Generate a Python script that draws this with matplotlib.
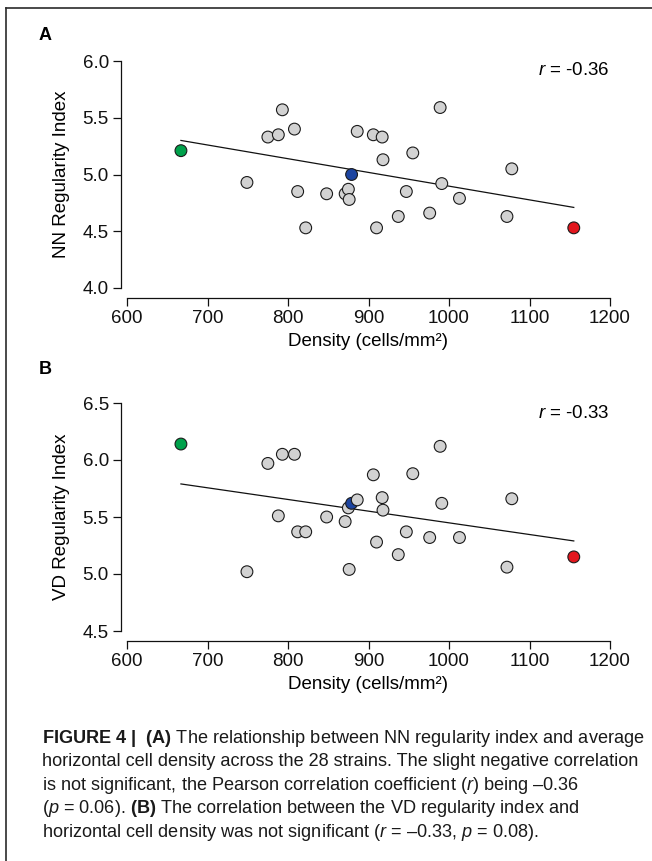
"""
Figure 4: NN / VD regularity index vs. horizontal cell density (28 strains).
"""

import numpy as np
import matplotlib

matplotlib.use("Agg")
import matplotlib.pyplot as plt
from matplotlib.lines import Line2D

plt.rcParams["font.family"] = ["Liberation Sans", "DejaVu Sans"]
plt.rcParams["mathtext.fontset"] = "custom"
plt.rcParams["mathtext.rm"] = "Liberation Sans"
plt.rcParams["mathtext.it"] = "Liberation Sans:italic"
plt.rcParams["mathtext.bf"] = "Liberation Sans:bold"

# --- data
density = [667, 749, 775, 788, 793, 808, 812, 822, 848, 871, 875, 876, 879,
           886, 906, 917, 918, 910, 937, 947, 955, 976, 989, 991, 1013,
           1072, 1078, 1155]
nn_index = [5.21, 4.93, 5.33, 5.35, 5.57, 5.40, 4.85, 4.53, 4.83, 4.83,
            4.87, 4.78, 5.00, 5.38, 5.35, 5.33, 5.13, 4.53, 4.63, 4.85,
            5.19, 4.66, 5.59, 4.92, 4.79, 4.63, 5.05, 4.53]
vd_index = [6.14, 5.02, 5.97, 5.51, 6.05, 6.05, 5.37, 5.37, 5.50, 5.46,
            5.58, 5.04, 5.62, 5.65, 5.87, 5.67, 5.56, 5.28, 5.17, 5.37,
            5.88, 5.32, 6.12, 5.62, 5.32, 5.06, 5.66, 5.15]
# regression line as printed, value at lowest and highest density
nn_fit_ends = [5.30, 4.71]
vd_fit_ends = [5.79, 5.29]
nn_r_label = "-0.36"
vd_r_label = "-0.33"
x_ticks = [600, 700, 800, 900, 1000, 1100, 1200]
nn_ticks = [4.0, 4.5, 5.0, 5.5, 6.0]
vd_ticks = [4.5, 5.0, 5.5, 6.0, 6.5]

# strains picked out in colour (lowest density, mid, highest density)
HIGHLIGHT = {0: "#00a14b", 12: "#1c44a0", 27: "#e3171e"}
GREY = "#d2d2d2"

W, H = 652, 861


def draw_panel(ax, x, y, fit_ends, yticks, ylabel, r_label):
    x = np.asarray(x, dtype=float)
    ax.plot([x.min(), x.max()], fit_ends, color="#111111", lw=0.9, zorder=1)

    colors = [HIGHLIGHT.get(i, GREY) for i in range(len(x))]
    ax.scatter(x, y, s=72, c=colors, edgecolors="#1a1a1a", linewidths=0.8,
               zorder=2, clip_on=False)

    ax.set_xlim(x_ticks[0], x_ticks[-1])
    ax.set_ylim(yticks[0], yticks[-1])
    ax.set_xticks(x_ticks)
    ax.set_yticks(yticks)
    ax.set_yticklabels([f"{t:.1f}" for t in yticks])
    for side in ("top", "right"):
        ax.spines[side].set_visible(False)
    ax.spines["left"].set_position(("outward", 4))
    ax.spines["bottom"].set_position(("outward", 7))
    for side in ("left", "bottom"):
        ax.spines[side].set_linewidth(0.9)
        ax.spines[side].set_color("#111111")
    ax.tick_params(direction="out", length=6, width=0.9, labelsize=13.5,
                   pad=3, colors="#111111")
    ax.set_xlabel("Density (cells/mm²)", fontsize=13.5, labelpad=4)
    ax.set_ylabel(ylabel, fontsize=13.5, labelpad=9)
    ax.text(1.0, 0.956, f"$r$ = {r_label}", transform=ax.transAxes,
            ha="right", va="center", fontsize=13.5)
    ax.patch.set_visible(False)


fig = plt.figure(figsize=(W / 100, H / 100), dpi=100)

axA = fig.add_axes([127 / W, 1 - 288 / H, 483 / W, 227 / H])
draw_panel(axA, density, nn_index, nn_fit_ends, nn_ticks,
           "NN Regularity Index", nn_r_label)
axB = fig.add_axes([127 / W, 1 - 631 / H, 483 / W, 228 / H])
draw_panel(axB, density, vd_index, vd_fit_ends, vd_ticks,
           "VD Regularity Index", vd_r_label)

fig.text(39 / W, 1 - 36 / H, "A", fontsize=13, fontweight="bold", va="center")
fig.text(39 / W, 1 - 370 / H, "B", fontsize=13, fontweight="bold", va="center")

# outer frame (left and top edges only, as cropped in the source)
frame_kw = dict(color="#2b2b2b", lw=1.2, transform=fig.transFigure)
fig.add_artist(Line2D([6 / W, 1.0], [1 - 8 / H, 1 - 8 / H], **frame_kw))
fig.add_artist(Line2D([6 / W, 6 / W], [1 - 8 / H, 0.0], **frame_kw))

caption = [
    r"$\mathbf{FIGURE\ 4\ |\ \ (A)}$ The relationship between NN regularity index and average",
    "horizontal cell density across the 28 strains. The slight negative correlation",
    r"is not significant, the Pearson correlation coefficient ($\mathit{r}$) being –0.36",
    r"($\mathit{p}$ = 0.06). $\mathbf{(B)}$ The correlation between the VD regularity index and",
    r"horizontal cell density was not significant ($\mathit{r}$ = –0.33, $\mathit{p}$ = 0.08).",
]
baselines = [743, 766.4, 789.8, 813.2, 836.6]
for line, yb in zip(caption, baselines):
    fig.text(42 / W, 1 - yb / H, line, fontsize=13.1, va="baseline",
             ha="left", color="#1a1a1a")

fig.savefig("out.png", dpi=100)
